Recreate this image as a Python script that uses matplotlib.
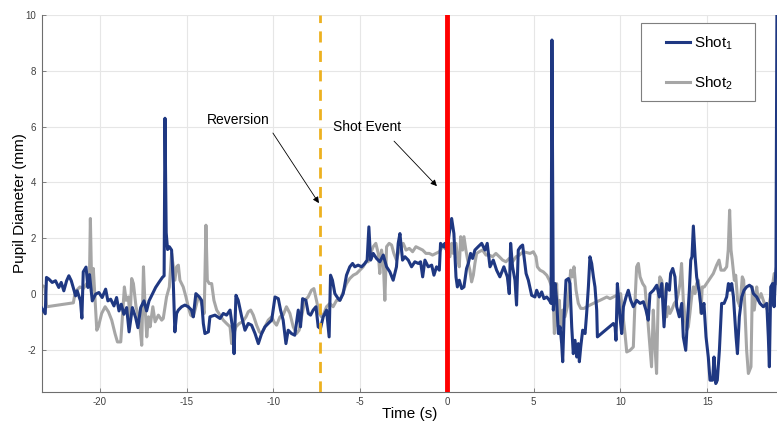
import matplotlib

matplotlib.use("Agg")
import matplotlib.pyplot as plt
from matplotlib.patches import Rectangle

plt.rcParams["font.family"] = ["Liberation Sans", "DejaVu Sans"]
plt.rcParams["mathtext.fontset"] = "custom"
plt.rcParams["mathtext.rm"] = "Liberation Sans"
plt.rcParams["axes.unicode_minus"] = False

# ---------------------------------------------------------------- data
shot1_t = [-23.35, -23.15, -23.08, -22.94, -22.75, -22.56, -22.37, -22.23, -22.08, -21.92,
           -21.79, -21.65, -21.54, -21.4, -21.31, -21.12, -21.04, -20.96, -20.8, -20.69,
           -20.6, -20.44, -20.25, -20.06, -19.87, -19.67, -19.54, -19.38, -19.19, -19.04,
           -18.9, -18.77, -18.62, -18.46, -18.32, -18.13, -17.94, -17.81, -17.65, -17.46,
           -17.31, -17.17, -16.98, -16.79, -16.6, -16.4, -16.3, -16.25, -16.18, -16.1,
           -16.0, -15.87, -15.77, -15.68, -15.58, -15.48, -15.29, -15.1, -14.91, -14.72,
           -14.62, -14.47, -14.27, -14.14, -14.04, -13.95, -13.75, -13.66, -13.37, -13.08,
           -12.89, -12.7, -12.5, -12.31, -12.27, -12.16, -12.03, -11.83, -11.64, -11.45,
           -11.26, -11.06, -10.87, -10.68, -10.49, -10.3, -10.1, -9.91, -9.72, -9.59,
           -9.44, -9.28, -9.15, -8.96, -8.77, -8.57, -8.44, -8.32, -8.13, -7.99,
           -7.86, -7.71, -7.55, -7.42, -7.29, -7.13, -6.94, -6.79, -6.71, -6.6,
           -6.46, -6.27, -6.17, -5.98, -5.79, -5.6, -5.44, -5.31, -5.12, -4.92,
           -4.73, -4.6, -4.5, -4.4, -4.25, -4.06, -3.87, -3.67, -3.48, -3.29,
           -3.1, -2.91, -2.81, -2.71, -2.56, -2.42, -2.23, -2.04, -1.85, -1.65,
           -1.52, -1.4, -1.27, -1.08, -0.88, -0.75, -0.6, -0.44, -0.37, -0.21,
           -0.12, 0.0, 0.13, 0.27, 0.4, 0.52, 0.6, 0.71, 0.85, 0.98,
           1.13, 1.23, 1.36, 1.48, 1.61, 1.8, 2.0, 2.19, 2.32, 2.48,
           2.67, 2.86, 3.05, 3.28, 3.48, 3.59, 3.67, 3.78, 3.92, 4.01,
           4.11, 4.24, 4.36, 4.44, 4.56, 4.69, 4.88, 5.07, 5.17, 5.32,
           5.46, 5.59, 5.75, 5.9, 6.0, 6.05, 6.13, 6.23, 6.32, 6.42,
           6.52, 6.61, 6.67, 6.75, 6.86, 7.0, 7.09, 7.19, 7.28, 7.38,
           7.48, 7.57, 7.63, 7.71, 7.82, 7.96, 8.05, 8.15, 8.24, 8.34,
           8.44, 8.53, 8.63, 8.67, 9.59, 9.69, 9.74, 9.82, 9.9, 9.97,
           10.07, 10.17, 10.32, 10.45, 10.59, 10.74, 10.93, 11.13, 11.32, 11.47,
           11.6, 11.7, 11.9, 12.09, 12.24, 12.38, 12.51, 12.66, 12.82, 12.89,
           13.01, 13.14, 13.24, 13.39, 13.53, 13.62, 13.76, 13.85, 13.97, 14.05,
           14.12, 14.2, 14.3, 14.39, 14.55, 14.68, 14.81, 14.93, 15.06, 15.16,
           15.31, 15.39, 15.49, 15.58, 15.7, 15.83, 15.97, 16.12, 16.22, 16.31,
           16.41, 16.51, 16.66, 16.74, 16.85, 16.99, 17.12, 17.27, 17.43, 17.56,
           17.66, 17.85, 18.04, 18.23, 18.43, 18.52, 18.58, 18.66, 18.77, 18.85,
           18.96, 19.02]
shot1_v = [-0.5, -0.7, 0.6, 0.54, 0.42, 0.48, 0.24, 0.42, 0.12, 0.48,
           0.66, 0.48, 0.24, -0.06, 0.12, -0.24, -0.86, 0.8, 0.97, 0.24,
           0.7, -0.24, 0.0, 0.06, -0.12, 0.18, -0.24, -0.18, -0.42, -0.12,
           -0.6, -0.36, -0.72, -0.48, -1.35, -0.48, -0.84, -1.2, -0.48, -0.24,
           -0.6, -0.24, 0.0, 0.24, 0.42, 0.6, 0.66, 6.3, 2.2, 1.6,
           1.7, 1.58, 0.38, -1.35, -0.69, -0.57, -0.45, -0.39, -0.45, -0.57,
           -0.81, 0.02, -0.1, -0.22, -1.05, -1.41, -1.35, -0.81, -0.75, -0.87,
           -0.69, -0.75, -0.57, -1.41, -2.13, -0.04, -0.22, -0.81, -1.29, -1.05,
           -1.11, -1.41, -1.77, -1.41, -1.17, -1.05, -0.93, -0.1, -0.16, -0.57,
           -0.93, -1.77, -1.29, -1.41, -1.47, -0.57, -1.17, -0.16, -0.22, -0.69,
           -0.75, -0.57, -0.45, -1.17, -1.23, -0.81, -0.57, -1.53, 0.68, 0.5,
           0.02, -0.16, -0.22, 0.02, 0.68, 0.98, 1.1, 0.98, 1.04, 0.98,
           1.1, 1.22, 2.41, 1.22, 1.46, 1.28, 1.16, 1.4, 0.98, 0.8,
           0.5, 0.98, 1.82, 2.17, 1.22, 1.34, 1.22, 0.98, 1.16, 1.1,
           1.16, 0.62, 1.22, 0.98, 1.04, 0.68, 0.98, 0.86, 1.82, 1.7,
           1.82, 1.5, 2.17, 2.71, 2.17, 0.62, 0.26, 0.5, 0.2, 0.26,
           0.92, 1.1, 1.46, 1.28, 1.58, 1.7, 1.82, 1.58, 1.82, 0.98,
           1.22, 0.86, 0.62, 0.98, 0.62, 0.02, 1.82, 0.98, 0.5, -0.39,
           1.58, 1.7, 1.76, 1.34, 0.74, 0.5, -0.04, -0.1, 0.14, -0.1,
           0.08, -0.16, -0.1, -0.22, -0.33, 9.1, -0.57, 0.38, -0.22, -1.41,
           -1.17, -1.77, -2.42, -0.81, 0.5, 0.56, 0.38, -1.17, -2.13, -1.65,
           -2.25, -1.77, -2.42, -1.89, -1.29, -1.41, -0.69, 0.26, 1.34, 1.1,
           0.62, 0.26, -0.57, -1.53, -1.05, -1.17, -1.65, 0.38, -0.22, -0.81,
           -1.41, -0.45, -0.1, 0.14, -0.22, -0.45, -0.22, -0.33, -0.27, -0.57,
           -0.93, 0.02, 0.14, 0.32, -0.1, 0.38, -1.17, 0.38, 0.14, 0.74,
           0.92, 0.62, -0.45, -0.81, -0.33, -1.53, -2.01, -1.05, 0.14, 1.22,
           1.34, 2.44, 1.34, 0.62, 0.02, -0.69, -0.33, -1.53, -2.25, -3.08,
           -3.08, -2.25, -3.2, -3.08, -2.01, -0.33, -0.33, -0.1, 0.38, 0.14,
           0.38, -0.1, -1.53, -2.13, -0.81, -0.1, 0.14, 0.26, 0.32, 0.26,
           0.02, -0.1, -0.33, -0.45, -0.33, -1.53, -2.6, 0.26, 0.38, -0.45,
           0.98, 11.0]

shot2_t = [-23.36, -23.17, -23.07, -21.53, -21.44, -21.34, -21.15, -20.96, -20.76, -20.61,
           -20.55, -20.47, -20.38, -20.28, -20.18, -20.09, -19.9, -19.7, -19.51, -19.32,
           -19.13, -18.99, -18.8, -18.69, -18.59, -18.49, -18.36, -18.26, -18.17, -18.07,
           -17.92, -17.78, -17.69, -17.59, -17.49, -17.4, -17.3, -17.2, -17.11, -16.95,
           -16.82, -16.63, -16.44, -16.35, -16.16, -16.0, -15.87, -15.77, -15.68, -15.58,
           -15.48, -15.39, -15.2, -15.04, -14.91, -14.77, -14.62, -14.47, -14.33, -14.2,
           -14.08, -13.99, -13.89, -13.81, -13.7, -13.56, -13.43, -13.27, -13.08, -12.89,
           -12.7, -12.5, -12.41, -12.31, -12.16, -11.97, -11.78, -11.58, -11.45, -11.31,
           -11.16, -10.97, -10.81, -10.68, -10.49, -10.3, -10.1, -9.97, -9.82, -9.62,
           -9.44, -9.25, -9.05, -8.86, -8.67, -8.52, -8.38, -8.19, -8.0, -7.81,
           -7.67, -7.52, -7.36, -7.23, -7.09, -6.94, -6.75, -6.56, -6.36, -6.17,
           -5.98, -5.79, -5.6, -5.4, -5.21, -5.02, -4.83, -4.67, -4.54, -4.4,
           -4.25, -4.1, -3.96, -3.87, -3.77, -3.67, -3.58, -3.48, -3.33, -3.19,
           -3.06, -2.91, -2.75, -2.62, -2.52, -2.36, -2.17, -1.98, -1.79, -1.6,
           -1.4, -1.21, -1.02, -0.83, -0.63, -0.44, -0.25, 0.0, 0.17, 0.27,
           0.36, 0.52, 0.6, 0.71, 0.79, 0.9, 0.98, 1.09, 1.23, 1.32,
           1.42, 1.52, 1.61, 1.71, 1.86, 2.05, 2.25, 2.44, 2.63, 2.82,
           3.02, 3.21, 3.4, 3.59, 3.78, 3.98, 4.17, 4.4, 4.79, 4.98,
           5.13, 5.21, 5.36, 5.55, 5.75, 5.9, 6.04, 6.13, 6.19, 6.27,
           6.32, 6.42, 6.48, 6.55, 6.67, 6.8, 6.94, 7.05, 7.13, 7.25,
           7.32, 7.44, 7.57, 7.71, 7.9, 8.05, 8.24, 8.44, 8.63, 8.82,
           9.01, 9.21, 9.4, 9.59, 9.78, 9.94, 10.01, 10.13, 10.26, 10.36,
           10.55, 10.74, 10.84, 10.93, 11.03, 11.13, 11.28, 11.41, 11.56, 11.7,
           11.79, 11.89, 11.99, 12.08, 12.18, 12.27, 12.37, 12.47, 12.56, 12.66,
           12.76, 12.85, 12.95, 13.1, 13.24, 13.33, 13.43, 13.52, 13.62, 13.72,
           13.81, 13.91, 14.0, 14.1, 14.2, 14.29, 14.39, 14.48, 14.58, 14.64,
           14.71, 14.83, 14.96, 15.16, 15.35, 15.54, 15.68, 15.79, 15.98, 16.12,
           16.21, 16.29, 16.37, 16.44, 16.56, 16.64, 16.75, 16.89, 17.02, 17.1,
           17.17, 17.27, 17.37, 17.52, 17.6, 17.71, 17.85, 17.94, 18.1, 18.23,
           18.37, 18.48, 18.61, 18.75, 18.86, 19.0]
shot2_v = [0.32, 0.26, -0.45, -0.31, 0.02, 0.14, 0.26, 0.2, 0.38, 0.26,
           2.71, 0.14, 0.92, -0.22, -1.29, -1.17, -0.69, -0.45, -0.63, -0.93,
           -1.41, -1.71, -1.71, -0.69, 0.26, -0.22, -0.1, -0.93, 0.56, 0.38,
           -0.45, -0.81, -1.17, -1.83, 0.98, -0.45, -1.53, -0.81, -1.17, -0.45,
           -0.99, -0.75, -0.93, -0.87, -0.1, 0.26, 1.46, 0.98, 0.5, 0.98,
           1.04, 0.5, 0.26, -0.1, -0.45, -0.75, -0.81, -0.45, -0.1, -0.22,
           -0.45, -0.69, 2.47, 0.5, 0.38, 0.38, -0.22, -0.57, -0.75, -0.93,
           -1.05, -1.17, -1.77, -1.47, -1.17, -1.05, -0.99, -0.81, -0.63, -0.57,
           -0.75, -1.11, -1.35, -1.41, -1.17, -0.93, -0.81, -0.99, -1.11, -0.81,
           -0.75, -0.45, -0.69, -1.17, -1.41, -1.29, -0.81, -0.22, -0.1, 0.14,
           0.2, -0.22, -0.69, -0.81, -0.69, -0.45, -0.33, -0.45, -0.22, -0.22,
           0.08, 0.38, 0.56, 0.68, 0.74, 0.86, 0.98, 1.16, 1.16, 1.46,
           1.7, 1.82, 1.46, 0.74, 1.58, 1.16, -0.22, 1.7, 1.82, 1.76,
           1.46, 1.22, 1.58, 1.7, 1.82, 1.58, 1.64, 1.52, 1.7, 1.64,
           1.58, 1.46, 1.46, 1.4, 1.46, 1.52, 1.7, 1.6, 1.34, 1.82,
           1.46, 1.82, 1.34, 0.98, 2.06, 1.58, 2.06, 1.58, 1.1, 0.86,
           0.44, 0.68, 1.1, 1.46, 1.52, 1.58, 1.4, 1.4, 1.34, 1.46,
           1.34, 1.22, 1.16, 1.28, 1.16, 1.34, 1.4, 1.52, 1.46, 1.52,
           1.34, 0.98, 0.86, 0.8, 0.68, 0.5, 0.26, -0.22, -1.41, -0.45,
           0.38, -1.17, -0.22, -1.41, -0.57, -0.81, -0.45, 0.26, 0.86, 0.62,
           0.98, 0.14, -0.33, -0.51, -0.51, -0.45, -0.39, -0.33, -0.27, -0.22,
           -0.16, -0.1, -0.16, -0.1, -0.04, -0.1, 0.02, -0.69, -1.41, -2.07,
           -2.01, -1.89, -0.22, 0.98, 1.1, 0.62, 0.38, 0.26, -0.81, -1.89,
           -2.6, -0.57, -1.89, -2.84, 0.02, 0.62, 0.5, 0.14, -0.45, -0.81,
           -0.45, -0.69, -0.57, -0.33, -0.22, 0.02, 0.38, 1.1, -0.22, -0.81,
           -1.29, -1.17, -0.69, -0.1, 0.26, 0.02, 0.38, 0.5, 0.02, -0.69,
           0.26, 0.26, 0.38, 0.56, 0.74, 1.04, 1.22, 0.86, 0.86, 0.98,
           1.58, 3.01, 1.58, 1.22, 0.5, 0.68, -0.22, -0.45, 0.62, 0.5,
           -0.57, -2.01, -2.84, -2.6, 0.26, -0.57, 0.26, -0.22, 0.02, -0.22,
           -0.45, -0.57, -0.22, 0.26, 0.74, 0.38]

reversion_t = -7.3
shot_event_t = 0.0

x_ticks = [-20, -15, -10, -5, 0, 5, 10, 15]
y_ticks = [-2, 0, 2, 4, 6, 8, 10]

BLUE = "#1f3882"
GRAY = "#a6a6a6"
ORANGE = "#edb120"
RED = "#ff0000"


def main():
    fig = plt.figure(figsize=(7.77, 4.26), dpi=100)
    ax = fig.add_axes([0.054, 0.080, 0.946, 0.885])

    ax.plot(shot1_t, shot1_v, color=BLUE, lw=2.2, label=r"Shot$_\mathregular{1}$", zorder=3)
    ax.plot(shot2_t, shot2_v, color=GRAY, lw=2.2, label=r"Shot$_\mathregular{2}$", zorder=2)
    ax.axvline(reversion_t, color=ORANGE, lw=2.0, dashes=(4, 3), zorder=4)
    ax.axvline(shot_event_t, color=RED, lw=3.5, zorder=4)

    arrow = dict(arrowstyle="-|>", color="k", lw=0.6, mutation_scale=9, shrinkA=0, shrinkB=0)
    ax.annotate("", xy=(-7.38, 3.26), xytext=(-10.03, 5.77), arrowprops=arrow)
    ax.annotate("", xy=(-0.58, 3.87), xytext=(-3.05, 5.48), arrowprops=arrow)
    ax.text(-13.83, 6.24, "Reversion", fontsize=10, ha="left", va="center")
    ax.text(-6.57, 5.99, "Shot Event", fontsize=10, ha="left", va="center")

    ax.set_xlim(-23.34, 19.02)
    ax.set_ylim(-3.5, 10)
    ax.set_xticks(x_ticks)
    ax.set_yticks(y_ticks)
    ax.grid(True, color="#e6e6e6", lw=0.8, zorder=0)
    ax.set_axisbelow(True)
    for side in ("top", "right"):
        ax.spines[side].set_visible(False)
    for side in ("left", "bottom"):
        ax.spines[side].set_color("#6e6e6e")
        ax.spines[side].set_linewidth(0.8)
    ax.tick_params(direction="in", length=3, width=0.6, colors="#6e6e6e",
                   labelsize=7, labelcolor="#404040", pad=4)
    ax.set_xlabel("Time (s)", fontsize=11, labelpad=0)
    ax.set_ylabel("Pupil Diameter (mm)", fontsize=11, labelpad=-1)

    # legend frame drawn separately so its padding matches the wide MATLAB box
    ax.add_patch(Rectangle((0.815, 0.772), 0.155, 0.207, transform=ax.transAxes,
                           facecolor="white", edgecolor="#7f7f7f", lw=0.8, zorder=5))
    leg = ax.legend(loc="upper left", bbox_to_anchor=(0.849, 0.948), fontsize=11,
                    frameon=False, handlelength=1.6, handletextpad=0.2,
                    labelspacing=1.45, borderpad=0, borderaxespad=0)
    leg.set_zorder(6)

    fig.savefig("out.png", dpi=100)
    plt.close(fig)


if __name__ == "__main__":
    main()
